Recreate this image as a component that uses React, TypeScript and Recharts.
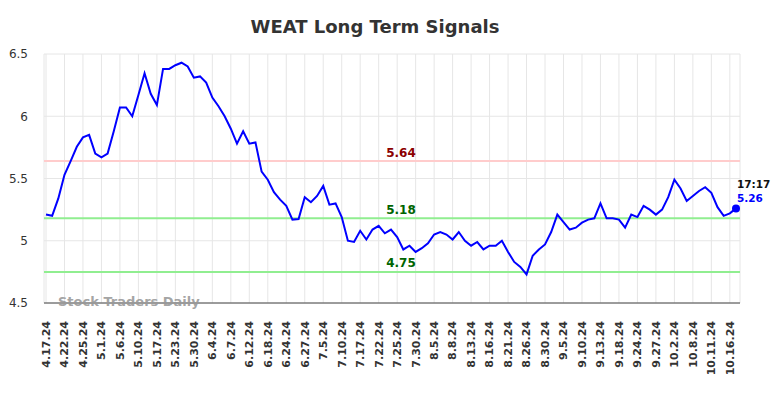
import React from "react";
import {
  LineChart,
  Line,
  XAxis,
  YAxis,
  CartesianGrid,
  ReferenceLine,
  ReferenceDot,
} from "recharts";

const dateLabels: string[] = [
  "4.17.24", "4.22.24", "4.25.24", "5.1.24", "5.6.24", "5.10.24", "5.17.24", "5.23.24",
  "5.30.24", "6.4.24", "6.7.24", "6.12.24", "6.18.24", "6.24.24", "6.27.24", "7.5.24",
  "7.10.24", "7.17.24", "7.22.24", "7.25.24", "7.30.24", "8.5.24", "8.8.24", "8.13.24",
  "8.16.24", "8.21.24", "8.26.24", "8.30.24", "9.5.24", "9.10.24", "9.13.24", "9.18.24",
  "9.24.24", "9.27.24", "10.2.24", "10.8.24", "10.11.24", "10.16.24",
];

const prices: number[] = [
  5.21, 5.2, 5.34, 5.53, 5.64, 5.755, 5.83, 5.85, 5.7, 5.67,
  5.7, 5.88, 6.07, 6.07, 6.0, 6.17, 6.345, 6.18, 6.09, 6.38,
  6.38, 6.41, 6.43, 6.4, 6.31, 6.32, 6.27, 6.15, 6.08, 6.0,
  5.9, 5.78, 5.88, 5.78, 5.79, 5.555, 5.49, 5.39, 5.33, 5.28,
  5.17, 5.175, 5.35, 5.31, 5.36, 5.44, 5.29, 5.3, 5.19, 5.0,
  4.99, 5.08, 5.01, 5.09, 5.12, 5.06, 5.09, 5.03, 4.93, 4.96,
  4.91, 4.94, 4.98, 5.05, 5.07, 5.05, 5.01, 5.07, 5.0, 4.96,
  4.99, 4.93, 4.96, 4.96, 5.0, 4.91, 4.83, 4.79, 4.73, 4.88,
  4.93, 4.97, 5.07, 5.21, 5.15, 5.09, 5.105, 5.145, 5.17, 5.18,
  5.3, 5.18, 5.18, 5.17, 5.105, 5.21, 5.19, 5.28, 5.25, 5.21,
  5.25, 5.35, 5.49, 5.42, 5.32, 5.36, 5.4, 5.43, 5.385, 5.27,
  5.2, 5.22, 5.26,
];

const resistance = 5.64;
const supports: number[] = [5.18, 4.75];
const yTicks: number[] = [4.5, 5, 5.5, 6, 6.5];
const lastTime = "17:17";
const title = "WEAT Long Term Signals";
const watermark = "Stock Traders Daily";

const data = prices.map((v, i) => ({ i, v }));
const xTicks = dateLabels.map((_, k) => k * 3);
const lastIndex = prices.length - 1;
const lastValue = prices[lastIndex];

const FONT = "'DejaVu Sans', sans-serif";

const XTick = (props: any) => {
  const { x, y, payload } = props;
  const label = dateLabels[Math.round(payload.value / 3)] ?? "";
  return (
    <text
      transform={`translate(${x},${y}) rotate(-90)`}
      x={-10}
      y={0}
      dy="0.35em"
      textAnchor="end"
      fontFamily={FONT}
      fontSize={11}
      fontWeight="bold"
      fill="#333"
    >
      {label}
    </text>
  );
};

const LevelLabel = (props: any) => {
  const { viewBox, text, color } = props;
  const y = viewBox ? viewBox.y : 0;
  return (
    <text
      x={401}
      y={y - 4.5}
      textAnchor="middle"
      fontFamily={FONT}
      fontSize={12}
      fontWeight="bold"
      fill={color}
    >
      {text}
    </text>
  );
};

const LastLabel = (props: any) => {
  const { viewBox } = props;
  const cx = viewBox ? viewBox.x + (viewBox.width || 0) / 2 : 0;
  const cy = viewBox ? viewBox.y + (viewBox.height || 0) / 2 : 0;
  return (
    <g>
      <text
        x={cx + 1}
        y={cy - 20}
        fontFamily={FONT}
        fontSize={10.5}
        fontWeight="bold"
        fill="#111"
      >
        {lastTime}
      </text>
      <text
        x={cx + 1}
        y={cy - 6}
        fontFamily={FONT}
        fontSize={10.5}
        fontWeight="bold"
        fill="#0000ff"
      >
        {lastValue.toFixed(2)}
      </text>
    </g>
  );
};

export default function App() {
  return (
    <div style={{ position: "absolute", left: 0, top: 0, width: 784, height: 398, background: "#fff" }}>
      <LineChart
        width={784}
        height={398}
        data={data}
        margin={{ top: 54, right: 44, bottom: 0, left: 0 }}
      >
        <CartesianGrid stroke="#e6e6e6" strokeWidth={1} />
        <XAxis
          dataKey="i"
          type="number"
          domain={[0, lastIndex]}
          ticks={xTicks}
          interval={0}
          padding={{ left: 2, right: 4 }}
          height={95}
          tickLine={false}
          axisLine={{ stroke: "#444", strokeWidth: 1 }}
          tick={<XTick />}
        />
        <YAxis
          type="number"
          domain={[4.5, 6.5]}
          ticks={yTicks}
          width={44}
          axisLine={false}
          tickLine={false}
          tickMargin={10}
          tick={{ fontFamily: FONT, fontSize: 12, fill: "#333" }}
        />
        <ReferenceLine
          y={resistance}
          stroke="#ffcccc"
          strokeWidth={2}
          label={<LevelLabel text={resistance.toFixed(2)} color="#8b0000" />}
        />
        {supports.map((s) => (
          <ReferenceLine
            key={s}
            y={s}
            stroke="#90ee90"
            strokeWidth={2}
            label={<LevelLabel text={s.toFixed(2)} color="#006400" />}
          />
        ))}
        <Line
          type="linear"
          dataKey="v"
          stroke="#0000ff"
          strokeWidth={2}
          dot={false}
          isAnimationActive={false}
        />
        <ReferenceDot
          x={lastIndex}
          y={lastValue}
          r={4}
          fill="#0000ff"
          stroke="none"
          label={<LastLabel />}
        />
      </LineChart>
      <svg
        width={784}
        height={398}
        style={{ position: "absolute", left: 0, top: 0, pointerEvents: "none" }}
      >
        <text
          x={375}
          y={33}
          textAnchor="middle"
          fontFamily={FONT}
          fontSize={18}
          fontWeight="bold"
          fill="#333"
        >
          {title}
        </text>
        <text
          x={58}
          y={306}
          fontFamily={FONT}
          fontSize={13}
          fontWeight="bold"
          fill="#999"
          fillOpacity={0.9}
        >
          {watermark}
        </text>
      </svg>
    </div>
  );
}
